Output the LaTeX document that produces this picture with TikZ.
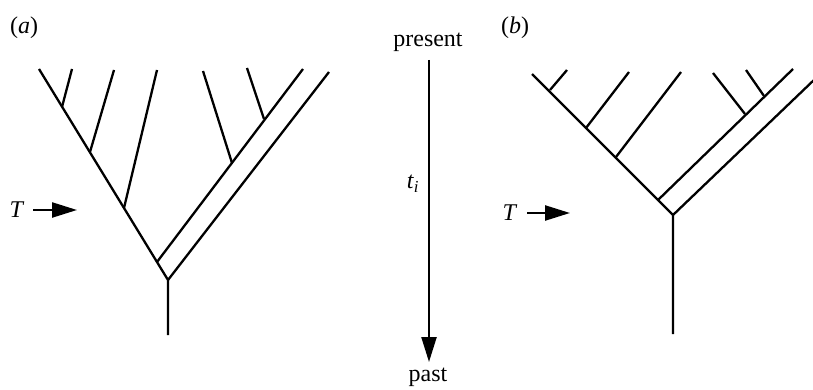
\documentclass[tikz,border=0pt]{standalone}
\usepackage{fontspec}
\setmainfont{Liberation Serif}
\usetikzlibrary{arrows.meta}
\tikzset{
  br/.style={line width=2.3pt, line cap=butt},
  arr/.style={line width=2.3pt, -{Triangle[length=25pt,width=15pt]}},
  lab/.style={font=\fontsize{24}{28}\selectfont, inner sep=0pt}
}
\begin{document}
\begin{tikzpicture}[x=1pt,y=-1pt]
\useasboundingbox (0,0) rectangle (813,390);
% ---------- tree (a)
\coordinate (aR) at (168,280);
\coordinate (aS) at (168,335);
\coordinate (aL) at (39,69);
\coordinate (aJ) at (157,262);
\coordinate (aO) at (329,72);
\coordinate (aI) at (303,69);
\coordinate (aL1) at (62,107);  \coordinate (aL1t) at (72,69);
\coordinate (aL2) at (90,152);  \coordinate (aL2t) at (114,70);
\coordinate (aL3) at (124,208); \coordinate (aL3t) at (157,70);
\coordinate (aI1) at (232,163); \coordinate (aI1t) at (203,71);
\coordinate (aI2) at (264,119); \coordinate (aI2t) at (247,68);
\draw[br] (aS) -- (aR) -- (aL);
\draw[br] (aR) -- (aO);
\draw[br] (aJ) -- (aI);
\draw[br] (aL1) -- (aL1t);
\draw[br] (aL2) -- (aL2t);
\draw[br] (aL3) -- (aL3t);
\draw[br] (aI1) -- (aI1t);
\draw[br] (aI2) -- (aI2t);
\node[lab] (alab) at (24,28) {(\textit{a})};
\node[lab] (aT) at (17,210) {\textit{T}};
\coordinate (aTs) at (33,210);
\coordinate (aTe) at (77,210);
\draw[arr] (aTs) -- (aTe);
% ---------- time arrow
\node[lab] (present) at (428,42) {present};
\node[lab] (past) at (428,377) {past};
\coordinate (ts) at (429,60);
\coordinate (te) at (429,362);
\draw[arr] (ts) -- (te);
\node[lab] (ti) at (413,184) {\textit{t}\textsubscript{\textit{i}}};
% ---------- tree (b)
\coordinate (bR) at (673,215);
\coordinate (bS) at (673,334);
\coordinate (bL) at (532,74);
\coordinate (bJ) at (658,200);
\coordinate (bI) at (793,69);
\coordinate (bO) at (815,79);
\coordinate (bL1) at (550,90);   \coordinate (bL1t) at (567,70);
\coordinate (bL2) at (586,128);  \coordinate (bL2t) at (629,72);
\coordinate (bL3) at (616,157);  \coordinate (bL3t) at (681,72);
\coordinate (bI1) at (745,114);  \coordinate (bI1t) at (713,73);
\coordinate (bI2) at (764,96);   \coordinate (bI2t) at (746,70);
\draw[br] (bS) -- (bR) -- (bL);
\draw[br] (bR) -- (bO);
\draw[br] (bJ) -- (bI);
\draw[br] (bL1) -- (bL1t);
\draw[br] (bL2) -- (bL2t);
\draw[br] (bL3) -- (bL3t);
\draw[br] (bI1) -- (bI1t);
\draw[br] (bI2) -- (bI2t);
\node[lab] (blab) at (515,28) {(\textit{b})};
\node[lab] (bT) at (510,213) {\textit{T}};
\coordinate (bTs) at (527,213);
\coordinate (bTe) at (570,213);
\draw[arr] (bTs) -- (bTe);
\end{tikzpicture}
\end{document}
